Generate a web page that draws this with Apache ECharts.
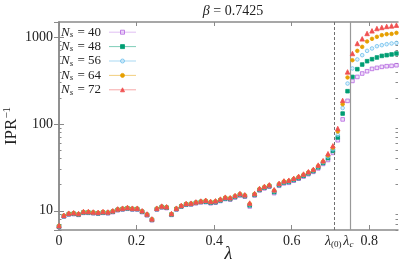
<!DOCTYPE html>
<html><head><meta charset="utf-8">
<script src="https://cdn.jsdelivr.net/npm/echarts@6/dist/echarts.min.js"></script>
<style>html,body{margin:0;padding:0;background:#fff}#c{width:399px;height:260px}</style>
</head><body><div id="c"></div>
<script>
const lambda = [0, 0.0126, 0.0252, 0.0378, 0.0504, 0.0630, 0.0757, 0.0883, 0.1009, 0.1135,
  0.1261, 0.1387, 0.1513, 0.1639, 0.1765, 0.1891, 0.2017, 0.2143, 0.2270, 0.2396,
  0.2522, 0.2648, 0.2774, 0.2900, 0.3026, 0.3152, 0.3278, 0.3404, 0.3530, 0.3657,
  0.3783, 0.3909, 0.4035, 0.4161, 0.4287, 0.4413, 0.4539, 0.4665, 0.4791, 0.4917,
  0.5043, 0.5170, 0.5296, 0.5422, 0.5548, 0.5674, 0.5800, 0.5926, 0.6052, 0.6178,
  0.6304, 0.6430, 0.6557, 0.6683, 0.6809, 0.6935, 0.7061, 0.7187, 0.7313, 0.7439,
  0.7565, 0.7691, 0.7817, 0.7943, 0.8070, 0.8196, 0.8322, 0.8448, 0.8574, 0.8700];
const ipr40 = [6.5, 8.57, 9.06, 9.16, 8.96, 9.46, 9.46, 9.36, 9.26, 9.46,
  9.36, 9.65, 10.15, 10.34, 10.54, 10.34, 10.34, 9.65, 8.87, 7.78,
  10.34, 10.93, 10.74, 8.96, 10.34, 11.13, 11.72, 11.82, 12.21, 12.51,
  12.58, 12.19, 12.38, 12.97, 13.65, 13.46, 14.24, 15.02, 14.53, 11.21,
  15.02, 17.16, 18.14, 18.92, 15.96, 19.4, 20.7, 21.0, 22.2, 23.4,
  24.8, 26.4, 28.1, 30.8, 34.7, 38.5, 46.5, 65, 113, 185,
  314, 349, 382, 406, 432, 444, 456, 464, 468, 476];
const ipr48 = [6.57, 8.66, 9.15, 9.25, 9.05, 9.55, 9.55, 9.45, 9.35, 9.55,
  9.45, 9.75, 10.25, 10.45, 10.65, 10.45, 10.45, 9.75, 8.96, 7.86,
  10.45, 11.04, 10.85, 9.05, 10.45, 11.24, 11.84, 11.94, 12.34, 12.64,
  12.77, 12.38, 12.57, 13.17, 13.86, 13.66, 14.45, 15.25, 14.75, 11.56,
  15.25, 17.42, 18.41, 19.21, 16.46, 19.8, 21.2, 21.5, 22.7, 23.8,
  25.3, 27.0, 28.7, 31.7, 35.6, 40.5, 49, 70, 132, 239,
  349, 429, 485, 530, 559, 585, 610, 622, 634, 650];
const ipr56 = [6.6, 8.7, 9.2, 9.3, 9.1, 9.6, 9.6, 9.5, 9.4, 9.6,
  9.5, 9.8, 10.3, 10.5, 10.7, 10.5, 10.5, 9.8, 9.0, 7.9,
  10.5, 11.1, 10.9, 9.1, 10.5, 11.3, 11.9, 12.0, 12.4, 12.7,
  12.9, 12.5, 12.7, 13.3, 14.0, 13.8, 14.6, 15.4, 14.9, 11.8,
  15.4, 17.6, 18.6, 19.4, 16.8, 20.1, 21.5, 21.8, 23.0, 24.2,
  25.7, 27.4, 29.1, 32.3, 36.3, 42, 51, 75, 153, 293,
  437, 555, 622, 697, 743, 789, 811, 832, 848, 861];
const ipr64 = [6.67, 8.79, 9.29, 9.39, 9.19, 9.7, 9.7, 9.6, 9.49, 9.7,
  9.6, 9.9, 10.4, 10.61, 10.81, 10.61, 10.61, 9.9, 9.09, 7.98,
  10.61, 11.21, 11.01, 9.19, 10.61, 11.41, 12.02, 12.12, 12.52, 12.83,
  13.09, 12.69, 12.89, 13.5, 14.21, 14.01, 14.82, 15.63, 15.12, 12.04,
  15.63, 17.86, 18.88, 19.69, 17.14, 20.4, 21.8, 22.1, 23.3, 24.6,
  26.1, 27.8, 29.5, 32.9, 37.0, 43.5, 53.5, 82, 169, 344,
  544, 697, 775, 895, 959, 1011, 1058, 1086, 1094, 1124];
const ipr72 = [6.73, 8.87, 9.38, 9.49, 9.28, 9.79, 9.79, 9.69, 9.59, 9.79,
  9.69, 10.0, 10.51, 10.71, 10.91, 10.71, 10.71, 10.0, 9.18, 8.06,
  10.71, 11.32, 11.12, 9.28, 10.71, 11.53, 12.14, 12.24, 12.65, 12.95,
  13.22, 12.81, 13.02, 13.63, 14.35, 14.15, 14.97, 15.79, 15.27, 12.27,
  15.79, 18.04, 19.07, 19.89, 17.47, 20.7, 22.1, 22.5, 23.7, 24.9,
  26.5, 28.2, 30.0, 33.6, 37.8, 45.5, 56, 88.7, 187, 399,
  650, 848, 959, 1107, 1186, 1262, 1297, 1333, 1353, 1380];
const sizesNs = [40, 48, 56, 64, 72];
const lambda0 = 0.7071;
const lambdaC = 0.746;
const xTickValues = [0, 0.2, 0.4, 0.6, 0.8];
const yMinorValues = [6, 7, 8, 9, 20, 30, 40, 50, 60, 70, 80, 90, 200, 300, 400, 500, 600, 700, 800, 900];
const yMin = 6, yMax = 1500, xMax = 0.874;

const FONT = 'Liberation Serif';
const AX = '#8a8a8a';
const styles = [
  {symbol: 'rect', color: 'rgba(225,190,245,0.5)', border: '#b464e0', legend: '#c27fe8'},
  {symbol: 'rect', color: '#009e73', border: '#009e73', legend: '#009e73'},
  {symbol: 'circle', color: 'rgba(190,228,248,0.5)', border: '#6cbfee', legend: '#56b4e9'},
  {symbol: 'circle', color: '#e69f00', border: '#e69f00', legend: '#e69f00'},
  {symbol: 'triangle', color: '#f05050', border: '#f05050', legend: '#f05050'}
];
const allData = [ipr40, ipr48, ipr56, ipr64, ipr72];

const series = allData.map((arr, k) => ({
  type: 'line',
  name: 'Ns=' + sizesNs[k],
  data: lambda.map((x, i) => [x, arr[i]]),
  symbol: styles[k].symbol,
  symbolSize: styles[k].symbol === 'triangle' ? 4.5 : 3.6,
  itemStyle: {color: styles[k].color, borderColor: styles[k].border, borderWidth: 0.8},
  lineStyle: {opacity: 0, color: styles[k].legend},
  emphasis: {disabled: true},
  silent: true,
  z: 3 + k,
  markLine: k === 0 ? {
    silent: true, symbol: ['none', 'none'], label: {show: false},
    data: [
      {xAxis: lambda0, lineStyle: {type: [3, 2], color: '#707070', width: 1}},
      {xAxis: lambdaC, lineStyle: {type: 'solid', color: '#999', width: 1.2}}
    ]
  } : undefined
}));

const lg = v => Math.log10(v);

const option = {
  animation: false,
  title: {
    text: '{i|β} = 0.7425', left: 228, top: -1, textAlign: 'center',
    textStyle: {fontFamily: FONT, fontSize: 14, fontWeight: 'normal', color: '#222',
      rich: {i: {fontFamily: FONT, fontStyle: 'italic', fontSize: 14, color: '#222'}}}
  },
  grid: {left: 59, right: 1, top: 22, bottom: 30, outerBoundsMode: 'none', containLabel: false},
  legend: {
    orient: 'vertical', left: 61, top: 25, padding: 0, align: 'right',
    itemWidth: 27, itemHeight: 5, itemGap: 0, selectedMode: false,
    lineStyle: {opacity: 0.5, width: 1},
    itemStyle: {borderWidth: 0.8},
    data: series.map(s => s.name),
    formatter: n => '{i|N}{s|s} = ' + n.split('=')[1],
    textStyle: {fontFamily: FONT, fontSize: 13, color: '#222', lineHeight: 14.4, padding: [0, 3, 0, 0],
      rich: {
        i: {fontFamily: FONT, fontStyle: 'italic', fontSize: 13, color: '#222'},
        s: {fontFamily: FONT, fontStyle: 'italic', fontSize: 9, color: '#222', padding: [5, 1, 0, 0]}
      }}
  },
  xAxis: [
    {
      type: 'value', min: 0, max: xMax, position: 'bottom',
      name: 'λ', nameLocation: 'middle', nameGap: 15, nameMoveOverlap: false,
      nameTextStyle: {fontFamily: FONT, fontStyle: 'italic', fontSize: 18, color: '#222'},
      axisLine: {show: true, lineStyle: {color: AX, width: 1.5}},
      axisTick: {show: true, inside: true, length: 5, customValues: xTickValues, lineStyle: {color: AX}},
      axisLabel: {
        customValues: [0, 0.2, 0.4, 0.6, lambda0, lambdaC, 0.8], margin: 4,
        fontFamily: FONT, fontSize: 14, color: '#222',
        formatter: v => {
          if (Math.abs(v - lambda0) < 1e-6) return '{i|λ}{s|(0)}';
          if (Math.abs(v - lambdaC) < 1e-6) return '{i|λ}{c|c}';
          return v === 0 ? '0' : v.toFixed(1);
        },
        rich: {
          i: {fontFamily: FONT, fontStyle: 'italic', fontSize: 14, color: '#222'},
          s: {fontFamily: FONT, fontSize: 9, color: '#222', padding: [6, 0, 0, 0]},
          c: {fontFamily: FONT, fontStyle: 'italic', fontSize: 9, color: '#222', padding: [6, 0, 0, 0]}
        }
      },
      splitLine: {show: false}
    },
    {
      type: 'value', min: 0, max: xMax, position: 'top',
      axisLine: {show: true, lineStyle: {color: AX, width: 1.5}},
      axisTick: {show: true, inside: true, length: 4, customValues: xTickValues, lineStyle: {color: AX}},
      axisLabel: {show: false}, splitLine: {show: false}
    }
  ],
  yAxis: [
    {
      type: 'log', logBase: 10, min: yMin, max: yMax, position: 'left',
      name: '{a|IPR}{b|−1}', nameLocation: 'middle', nameGap: 38, nameRotate: 90, nameMoveOverlap: false,
      nameTextStyle: {fontFamily: FONT, fontSize: 17, color: '#222',
        rich: {a: {fontFamily: FONT, fontSize: 17, color: '#222'},
               b: {fontFamily: FONT, fontSize: 11, color: '#222', padding: [0, 0, 8, 0]}}},
      axisLine: {show: true, lineStyle: {color: AX, width: 1.5}},
      axisTick: {show: true, inside: true, length: 5, lineStyle: {color: AX}},
      axisLabel: {showMinLabel: false, showMaxLabel: false, margin: 6,
        fontFamily: FONT, fontSize: 14, color: '#222', formatter: v => String(Math.round(v))},
      minorTick: {show: false}, splitLine: {show: false}
    },
    {
      type: 'log', logBase: 10, min: yMin, max: yMax, position: 'right',
      axisLine: {show: true, lineStyle: {color: AX, width: 1.5}},
      axisTick: {show: true, inside: true, length: 5, lineStyle: {color: AX}},
      axisLabel: {show: false}, splitLine: {show: false}
    },
    {
      type: 'value', min: lg(yMin), max: lg(yMax), position: 'left',
      axisLine: {show: false},
      axisTick: {show: true, inside: true, length: 2.5, customValues: yMinorValues.map(lg), lineStyle: {color: AX}},
      axisLabel: {show: false}, splitLine: {show: false}
    },
    {
      type: 'value', min: lg(yMin), max: lg(yMax), position: 'right',
      axisLine: {show: false},
      axisTick: {show: true, inside: true, length: 2.5, customValues: yMinorValues.map(lg), lineStyle: {color: AX}},
      axisLabel: {show: false}, splitLine: {show: false}
    }
  ],
  series: series
};
const chart = echarts.init(document.getElementById('c'), null, {renderer: 'canvas'});
chart.setOption(option);
</script>
</body></html>
